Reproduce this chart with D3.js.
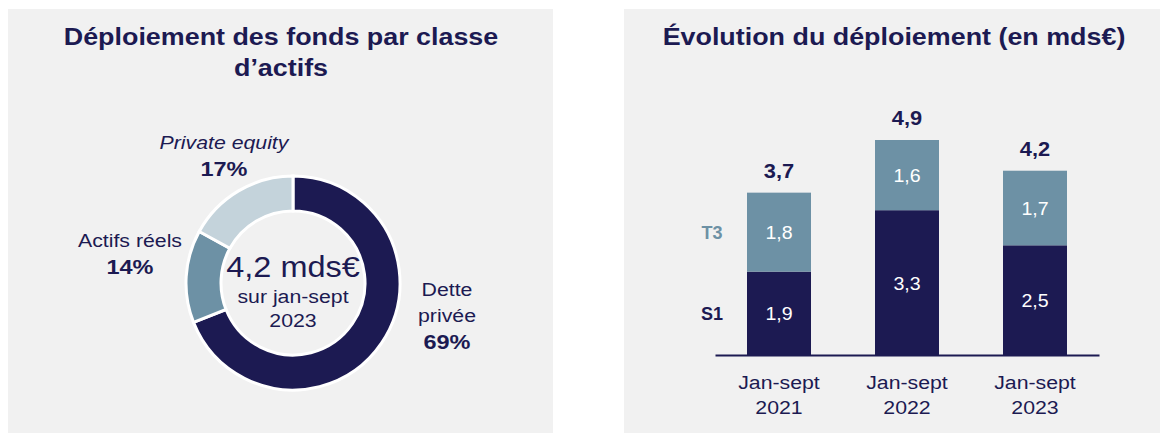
<!DOCTYPE html>
<html>
<head>
<meta charset="utf-8">
<script src="https://cdnjs.cloudflare.com/ajax/libs/d3/7.8.5/d3.min.js"></script>
<style>
  body { margin: 0; background: #fff; }
  svg { display: block; font-family: "Liberation Sans", Arial, sans-serif; }
</style>
</head>
<body>
<script>
// Donut data
var assetClasses = ["Dette privée", "Actifs réels", "Private equity"];
var assetShares = [69, 14, 17];

// Bar data
var periods = ["Jan-sept 2021", "Jan-sept 2022", "Jan-sept 2023"];
var s1Values = [1.9, 3.3, 2.5];
var t3Values = [1.8, 1.6, 1.7];
var totals = [3.7, 4.9, 4.2];
var seriesNames = ["S1", "T3"];

var navy = "#1c1a52";
var steel = "#6d91a5";
var light = "#c4d3db";
var panelBg = "#f1f1f1";

var width = 1163;
var height = 434;
var stretch = 1.12; // reference text is a bit wider than Arial

var svg = d3.select("body").append("svg")
	.attr("width", width)
	.attr("height", height);

// Panels
svg.append("rect").attr("x", 8).attr("y", 9).attr("width", 545).attr("height", 424).attr("fill", panelBg);
svg.append("rect").attr("x", 624).attr("y", 9).attr("width", 536).attr("height", 424).attr("fill", panelBg);

var fmt = function(v) { return d3.format(".1f")(v).replace(".", ","); };

// centred text block, stretched horizontally around its anchor
function label(parent, x, y, lines, o) {
	var g = parent.append("g")
		.attr("transform", "translate(" + x + "," + y + ") scale(" + (o.sx || stretch) + ",1)");
	var t = g.append("text")
		.attr("text-anchor", "middle")
		.attr("fill", o.fill || navy)
		.attr("font-size", o.size)
		.attr("font-weight", o.bold ? "bold" : null)
		.attr("font-style", o.italic ? "italic" : null);
	lines.forEach(function(line, j) {
		t.append("tspan").attr("x", 0).attr("y", j * (o.lh || 0)).text(line);
	});
	return t;
}

// ---------- Left: donut ----------
var left = svg.append("g");

label(left, 281, 45, ["Déploiement des fonds par classe", "d’actifs"], { size: 24, bold: true, lh: 31 });

var cx = 293, cy = 283;
var outerR = 107, innerR = 72;

var pie = d3.pie().sort(null).value(function(d) { return d; });
var arc = d3.arc().innerRadius(innerR).outerRadius(outerR);
var colors = d3.scaleOrdinal().domain(assetClasses).range([navy, steel, light]);

var donut = left.append("g")
	.attr("transform", "translate(" + cx + "," + cy + ")");

donut.selectAll("path")
	.data(pie(assetShares))
	.enter()
	.append("path")
	.attr("d", arc)
	.attr("fill", function(d, i) { return colors(assetClasses[i]); })
	.attr("stroke", "#fff")
	.attr("stroke-width", 3);

// centre text
label(donut, 0, -6, ["4,2 mds€"], { size: 29 });
label(donut, 0, 20, ["sur jan-sept", "2023"], { size: 19, lh: 24 });

// slice labels (name lines + bold share)
var sliceLabels = [
	{ lines: ["Dette", "privée"], italic: false, x: 447, y: 296 },
	{ lines: ["Actifs réels"], italic: false, x: 130, y: 247 },
	{ lines: ["Private equity"], italic: true, x: 224, y: 149 }
];

sliceLabels.forEach(function(l, i) {
	label(left, l.x, l.y, l.lines, { size: 19, italic: l.italic, lh: 26 });
	label(left, l.x, l.y + l.lines.length * 26 + 1, [assetShares[i] + "%"], { size: 21, bold: true });
});

// ---------- Right: stacked bars ----------
var right = svg.append("g");

label(right, 894, 45, ["Évolution du déploiement (en mds€)"], { size: 24, bold: true });

var x = d3.scaleBand()
	.domain(periods)
	.range([715, 1099])
	.paddingInner(0.5)
	.paddingOuter(0.25);

var y = d3.scaleLinear()
	.domain([0, 4.9])
	.range([355, 140]);

var rows = periods.map(function(p, i) { return { period: p, S1: s1Values[i], T3: t3Values[i], total: totals[i] }; });
var stack = d3.stack().keys(seriesNames)(rows);
var barColors = d3.scaleOrdinal().domain(seriesNames).range([navy, steel]);

var layers = right.selectAll("g.layer")
	.data(stack)
	.enter()
	.append("g")
	.attr("class", "layer")
	.attr("fill", function(d) { return barColors(d.key); });

layers.selectAll("rect")
	.data(function(d) { return d; })
	.enter()
	.append("rect")
	.attr("x", function(d) { return x(d.data.period); })
	.attr("y", function(d) { return y(d[1]); })
	.attr("width", x.bandwidth())
	.attr("height", function(d) { return y(d[0]) - y(d[1]); });

// values inside segments
stack.forEach(function(layer) {
	layer.forEach(function(d) {
		label(right, x(d.data.period) + x.bandwidth() / 2, (y(d[0]) + y(d[1])) / 2 + 7,
			[fmt(d.data[layer.key])], { size: 17.5, fill: "#fff" });
	});
});

// totals above bars
rows.forEach(function(d) {
	label(right, x(d.period) + x.bandwidth() / 2, y(d.total) - 15, [fmt(d.total)], { size: 19.5, bold: true });
});

// series labels beside first bar
var first = rows[0];
label(right, 712, (y(0) + y(first.S1)) / 2 + 7, ["S1"], { size: 18, bold: true, sx: 1 });
label(right, 712, (y(first.S1) + y(first.total)) / 2 + 7, ["T3"], { size: 18, bold: true, sx: 1, fill: steel });

// x axis
var xAxis = d3.axisBottom(x).tickSize(0).tickFormat("");
var axisG = right.append("g")
	.attr("transform", "translate(0," + y(0) + ")")
	.call(xAxis);
axisG.select(".domain").attr("stroke", navy).attr("stroke-width", 2);

axisG.selectAll(".tick").each(function(d) {
	label(d3.select(this), 0, 34, d.split(" "), { size: 19, lh: 25 });
});
</script>
</body>
</html>
